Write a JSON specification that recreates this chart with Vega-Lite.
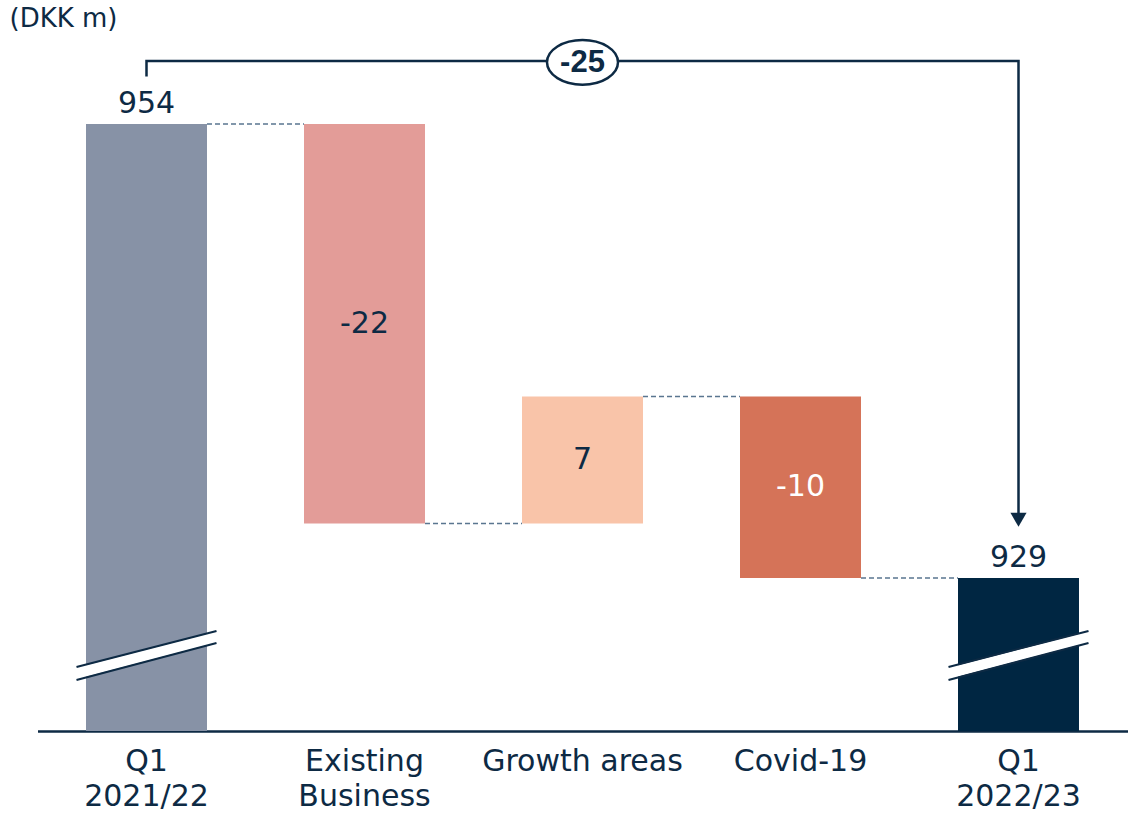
{
  "$schema": "https://vega.github.io/schema/vega-lite/v6.json",
  "width": 1090,
  "height": 691,
  "autosize": "none",
  "padding": {"left": 37.5, "top": 40, "right": 0.5, "bottom": 83},
  "background": "white",
  "config": {"view": {"stroke": null}, "font": "DejaVu Sans"},
  "title": {
    "text": "(DKK m)",
    "anchor": "start",
    "frame": "group",
    "orient": "top",
    "fontSize": 26,
    "font": "DejaVu Sans",
    "fontWeight": "normal",
    "color": "#0d2a44",
    "dx": -28,
    "dy": 9,
    "offset": 12
  },
  "datasets": {
    "bars": [
      {"cat": "Q1 2021/22", "start": 900, "end": 954, "label": "954", "kind": "total"},
      {"cat": "Existing Business", "start": 954, "end": 932, "label": "-22", "kind": "delta"},
      {"cat": "Growth areas", "start": 932, "end": 939, "label": "7", "kind": "delta"},
      {"cat": "Covid-19", "start": 939, "end": 929, "label": "-10", "kind": "delta"},
      {"cat": "Q1 2022/23", "start": 900, "end": 929, "label": "929", "kind": "total"}
    ],
    "links": [
      {"from": "Q1 2021/22", "to": "Existing Business", "level": 954},
      {"from": "Existing Business", "to": "Growth areas", "level": 932},
      {"from": "Growth areas", "to": "Covid-19", "level": 939},
      {"from": "Covid-19", "to": "Q1 2022/23", "level": 929}
    ],
    "breaks": [
      {"cat": "Q1 2021/22"},
      {"cat": "Q1 2022/23"}
    ],
    "bracket": [
      {"cat": "Q1 2021/22", "v": 956.62, "o": 1},
      {"cat": "Q1 2021/22", "v": 957.47, "o": 2},
      {"cat": "Q1 2022/23", "v": 957.47, "o": 3},
      {"cat": "Q1 2022/23", "v": 932.2, "o": 4}
    ],
    "change": [
      {"cat": "Growth areas", "v": 957.4, "label": "-25"}
    ]
  },
  "layer": [
    {
      "data": {"name": "bars"},
      "mark": {"type": "bar", "clip": true},
      "encoding": {
        "x": {
          "field": "cat",
          "type": "nominal",
          "sort": null,
          "scale": {
            "domain": ["Q1 2021/22", "Existing Business", "Growth areas", "Covid-19", "Q1 2022/23"],
            "paddingInner": 0.445,
            "paddingOuter": 0.2225
          },
          "axis": {
            "title": null,
            "labelAngle": 0,
            "ticks": false,
            "domainColor": "#0d2a44",
            "domainWidth": 2.5,
            "labelFont": "DejaVu Sans",
            "labelFontSize": 30,
            "labelColor": "#0d2a44",
            "labelPadding": 15,
            "labelLineHeight": 35,
            "labelLimit": 0,
            "labelExpr": "datum.value == 'Q1 2021/22' ? ['Q1', '2021/22'] : datum.value == 'Q1 2022/23' ? ['Q1', '2022/23'] : datum.value == 'Existing Business' ? ['Existing', 'Business'] : datum.value"
          }
        },
        "y": {
          "field": "start",
          "type": "quantitative",
          "scale": {"domain": [920.57, 958.63], "zero": false, "nice": false},
          "axis": null
        },
        "y2": {"field": "end"},
        "color": {
          "field": "cat",
          "type": "nominal",
          "scale": {
            "domain": ["Q1 2021/22", "Existing Business", "Growth areas", "Covid-19", "Q1 2022/23"],
            "range": ["#8792a6", "#e39c98", "#f9c4a9", "#d57358", "#002642"]
          },
          "legend": null
        }
      }
    },
    {
      "data": {"name": "links"},
      "mark": {"type": "rule", "stroke": "#5a7690", "strokeWidth": 1.5, "strokeDash": [5, 3], "xOffset": 60.5, "x2Offset": -60.5},
      "encoding": {
        "x": {"field": "from", "type": "nominal"},
        "x2": {"field": "to"},
        "y": {"field": "level", "type": "quantitative"}
      }
    },
    {
      "data": {"name": "breaks"},
      "mark": {"type": "rule", "stroke": "white", "strokeWidth": 11, "xOffset": -70, "x2Offset": 70},
      "encoding": {
        "x": {"field": "cat", "type": "nominal"},
        "x2": {"field": "cat"},
        "y": {"datum": 923.74, "type": "quantitative"},
        "y2": {"datum": 925.75}
      }
    },
    {
      "data": {"name": "breaks"},
      "mark": {"type": "rule", "stroke": "#0d2a44", "strokeWidth": 2, "xOffset": -70, "x2Offset": 70},
      "encoding": {
        "x": {"field": "cat", "type": "nominal"},
        "x2": {"field": "cat"},
        "y": {"datum": 924.1, "type": "quantitative"},
        "y2": {"datum": 926.08}
      }
    },
    {
      "data": {"name": "breaks"},
      "mark": {"type": "rule", "stroke": "#0d2a44", "strokeWidth": 2, "xOffset": -70, "x2Offset": 70},
      "encoding": {
        "x": {"field": "cat", "type": "nominal"},
        "x2": {"field": "cat"},
        "y": {"datum": 923.38, "type": "quantitative"},
        "y2": {"datum": 925.42}
      }
    },
    {
      "data": {"name": "bars"},
      "transform": [{"filter": "datum.kind == 'total'"}],
      "mark": {"type": "text", "baseline": "alphabetic", "dy": -11, "fontSize": 30, "color": "#0d2a44"},
      "encoding": {
        "x": {"field": "cat", "type": "nominal"},
        "y": {"field": "end", "type": "quantitative"},
        "text": {"field": "label"}
      }
    },
    {
      "data": {"name": "bars"},
      "transform": [
        {"filter": "datum.kind == 'delta'"},
        {"fold": ["start", "end"], "as": ["edge", "value"]}
      ],
      "mark": {"type": "text", "baseline": "middle", "fontSize": 30},
      "encoding": {
        "x": {"field": "cat", "type": "nominal"},
        "y": {"aggregate": "mean", "field": "value", "type": "quantitative"},
        "text": {"field": "label"},
        "color": {
          "condition": {"test": "datum.cat == 'Covid-19'", "value": "#ffffff"},
          "value": "#0d2a44"
        }
      }
    },
    {
      "data": {"name": "bracket"},
      "mark": {"type": "line", "stroke": "#0d2a44", "strokeWidth": 2.5, "strokeJoin": "miter", "strokeCap": "butt"},
      "encoding": {
        "x": {"field": "cat", "type": "nominal"},
        "y": {"field": "v", "type": "quantitative"},
        "order": {"field": "o", "type": "quantitative"}
      }
    },
    {
      "data": {"name": "bracket"},
      "transform": [{"filter": "datum.o == 4"}],
      "mark": {"type": "point", "shape": "triangle-down", "filled": true, "size": 260, "color": "#0d2a44", "opacity": 1},
      "encoding": {
        "x": {"field": "cat", "type": "nominal"},
        "y": {"field": "v", "type": "quantitative"}
      }
    },
    {
      "data": {"name": "change"},
      "mark": {"type": "point", "shape": "M -1 0 A 1 0.63 0 1 0 1 0 A 1 0.63 0 1 0 -1 0 Z", "size": 5041, "filled": false, "fill": "white", "fillOpacity": 1, "stroke": "#0d2a44", "strokeWidth": 2.5, "opacity": 1},
      "encoding": {
        "x": {"field": "cat", "type": "nominal"},
        "y": {"field": "v", "type": "quantitative"}
      }
    },
    {
      "data": {"name": "change"},
      "mark": {"type": "text", "baseline": "middle", "fontSize": 31, "fontWeight": "bold", "font": "Liberation Sans", "color": "#0d2a44", "dy": 1},
      "encoding": {
        "x": {"field": "cat", "type": "nominal"},
        "y": {"field": "v", "type": "quantitative"},
        "text": {"field": "label"}
      }
    }
  ]
}
